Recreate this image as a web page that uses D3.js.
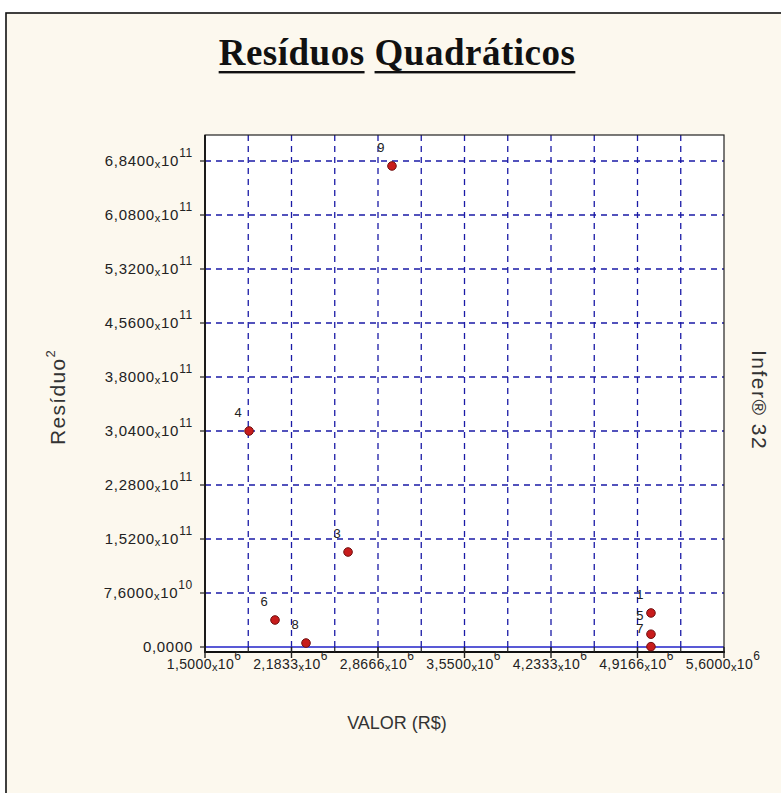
<!DOCTYPE html>
<html><head><meta charset="utf-8">
<script src="https://cdn.jsdelivr.net/npm/d3@7/dist/d3.min.js"></script>
<style>html,body{margin:0;padding:0;background:#fff;}svg{display:block;}</style>
</head><body>
<script>
// ---- data ----
const pointLabels = ["9","4","3","6","8","1","5","7"];
const pointX = [2.977e6, 1.848e6, 2.630e6, 2.053e6, 2.298e6, 5.023e6, 5.023e6, 5.023e6];
const pointY = [6.77e11, 3.04e11, 1.337e11, 3.8e10, 5.6e9, 4.79e10, 1.8e10, 5e8];
const xTickValues = [1.5e6, 2.18333e6, 2.86666e6, 3.55e6, 4.23333e6, 4.91666e6, 5.6e6];
const xTickMant = ["1,5000","2,1833","2,8666","3,5500","4,2333","4,9166","5,6000"];
const xTickExp = ["6","6","6","6","6","6","6"];
const yTickValues = [0, 7.6e10, 1.52e11, 2.28e11, 3.04e11, 3.80e11, 4.56e11, 5.32e11, 6.08e11, 6.84e11];
const yTickMant = ["0,0000","7,6000","1,5200","2,2800","3,0400","3,8000","4,5600","5,3200","6,0800","6,8400"];
const yTickExp = ["","10","11","11","11","11","11","11","11","11"];
const title = ["Resíduos","Quadráticos"];
const xTitle = "VALOR (R$)";
const yTitle = "Resíduo";
const sideNote = "Infer® 32";

const W = 781, H = 793;
const svg = d3.select("body").append("svg").attr("width", W).attr("height", H);
const sans = "'Liberation Sans', Arial, sans-serif";

// frame
svg.append("rect").attr("x", 6).attr("y", 13).attr("width", 900).attr("height", 900)
  .attr("fill", "#fcf8ee").attr("stroke", "#111").attr("stroke-width", 1.6);

// plot
const L = 205, R = 724, T = 135, B = 652;
const x = d3.scaleLinear().domain([1.5e6, 5.6e6]).range([L, R]);
const yStep = 7.6e10, pxStep = 54, zeroPx = 647;
const y = d3.scaleLinear()
  .domain([-(B - zeroPx) / pxStep * yStep, (zeroPx - T) / pxStep * yStep])
  .range([B, T]);

svg.append("rect").attr("x", L).attr("y", T).attr("width", R - L).attr("height", B - T)
  .attr("fill", "#fff");

const gridCol = "#1a1aa6";
// vertical grid: ticks and midpoints
const xGrid = [];
for (let i = 0; i < xTickValues.length; i++) {
  if (i > 0 && i < xTickValues.length - 1) xGrid.push(xTickValues[i]);
  if (i < xTickValues.length - 1) xGrid.push((xTickValues[i] + xTickValues[i + 1]) / 2);
}
svg.append("g").selectAll("line").data(xGrid).join("line")
  .attr("x1", d => x(d)).attr("x2", d => x(d)).attr("y1", T).attr("y2", y(0))
  .attr("stroke", gridCol).attr("stroke-width", 1.3).attr("stroke-dasharray", "6,5");
svg.append("g").selectAll("line").data(yTickValues.filter(d => d > 0)).join("line")
  .attr("x1", L).attr("x2", R).attr("y1", d => y(d)).attr("y2", d => y(d))
  .attr("stroke", gridCol).attr("stroke-width", 1.3).attr("stroke-dasharray", "6,5");

// zero line
svg.append("line").attr("x1", L).attr("x2", R).attr("y1", y(0)).attr("y2", y(0))
  .attr("stroke", "#2222c8").attr("stroke-width", 1.6);

// plot border
svg.append("rect").attr("x", L).attr("y", T).attr("width", R - L).attr("height", B - T)
  .attr("fill", "none").attr("stroke", "#222").attr("stroke-width", 1.2);
svg.append("line").attr("x1", L).attr("x2", L).attr("y1", T).attr("y2", B + 1)
  .attr("stroke", "#111").attr("stroke-width", 1.8);
svg.append("line").attr("x1", L).attr("x2", R + 1).attr("y1", B).attr("y2", B)
  .attr("stroke", "#111").attr("stroke-width", 1.8);

// x ticks
svg.append("g").selectAll("line").data(xGrid).join("line")
  .attr("x1", d => x(d)).attr("x2", d => x(d)).attr("y1", y(0)).attr("y2", B)
  .attr("stroke", "#222").attr("stroke-width", 1.2);
svg.append("g").selectAll("line").data(xTickValues).join("line")
  .attr("x1", d => x(d)).attr("x2", d => x(d)).attr("y1", y(0)).attr("y2", B + 6)
  .attr("stroke", "#222").attr("stroke-width", 1.4);
// y ticks
svg.append("g").selectAll("line").data(yTickValues).join("line")
  .attr("x1", L - 5).attr("x2", L).attr("y1", d => y(d)).attr("y2", d => y(d))
  .attr("stroke", "#222").attr("stroke-width", 1.2);

function sciLabel(sel, mant, exp) {
  sel.append("tspan").text(mant);
  if (exp) {
    sel.append("tspan").attr("font-size", 11).attr("dy", 2).text("x");
    sel.append("tspan").attr("dy", -2).text("10");
    sel.append("tspan").attr("font-size", 12).attr("dy", -9).text(exp);
  }
}
const tickFont = 15;
// y labels
yTickValues.forEach((v, i) => {
  const t = svg.append("text").attr("x", 193).attr("y", y(v) + 5)
    .attr("text-anchor", "end").attr("font-family", sans).attr("font-size", tickFont)
    .attr("letter-spacing", 0.7).attr("fill", "#222");
  sciLabel(t, yTickMant[i], yTickExp[i]);
});
// x labels
xTickValues.forEach((v, i) => {
  const t = svg.append("text").attr("x", x(v) - 1).attr("y", B + 17)
    .attr("text-anchor", "middle").attr("font-family", sans).attr("font-size", tickFont - 1)
    .attr("letter-spacing", 0.4).attr("fill", "#222");
  sciLabel(t, xTickMant[i], xTickExp[i]);
});

// points
const pts = pointX.map((d, i) => ({x: d, y: pointY[i], l: pointLabels[i]}));
svg.append("g").selectAll("circle").data(pts).join("circle")
  .attr("cx", d => x(d.x)).attr("cy", d => y(d.y)).attr("r", 4.3)
  .attr("fill", "#c81c1c").attr("stroke", "#701010").attr("stroke-width", 1);
svg.append("g").selectAll("text").data(pts).join("text")
  .attr("x", d => x(d.x) - 11).attr("y", d => y(d.y) - 14)
  .attr("text-anchor", "middle").attr("font-family", sans).attr("font-size", 13)
  .attr("fill", "#222").text(d => d.l);

// title
const serif = "'Liberation Serif', 'Times New Roman', serif";
const tg = svg.append("g");
const mk = s => tg.append("text").attr("y", 65).attr("font-family", serif).attr("font-weight", "bold")
  .attr("font-size", 37).attr("letter-spacing", 0.5).attr("fill", "#111").text(s);
const t1 = mk(title[0]), t2 = mk(title[1]);
const w1 = t1.node().getComputedTextLength(), w2 = t2.node().getComputedTextLength();
const gap = 10, total = w1 + gap + w2, x0 = 397 - total / 2;
t1.attr("x", x0); t2.attr("x", x0 + w1 + gap);
tg.append("rect").attr("x", x0).attr("y", 71).attr("width", w1).attr("height", 2.4).attr("fill", "#111");
tg.append("rect").attr("x", x0 + w1 + gap).attr("y", 71).attr("width", w2).attr("height", 2.4).attr("fill", "#111");

// axis titles
svg.append("text").attr("x", 397).attr("y", 729).attr("text-anchor", "middle")
  .attr("font-family", sans).attr("font-size", 18).attr("fill", "#333").text(xTitle);
const yt = svg.append("text").attr("transform", "translate(65,397) rotate(-90)")
  .attr("text-anchor", "middle").attr("font-family", sans).attr("font-size", 21)
  .attr("letter-spacing", 1.3).attr("fill", "#333");
yt.append("tspan").text(yTitle);
yt.append("tspan").attr("font-size", 13).attr("dy", -10).text("2");
svg.append("text").attr("transform", "translate(752,400) rotate(90)")
  .attr("text-anchor", "middle").attr("font-family", sans).attr("font-size", 21)
  .attr("letter-spacing", 1.5).attr("fill", "#333").text(sideNote);
</script>
</body></html>
